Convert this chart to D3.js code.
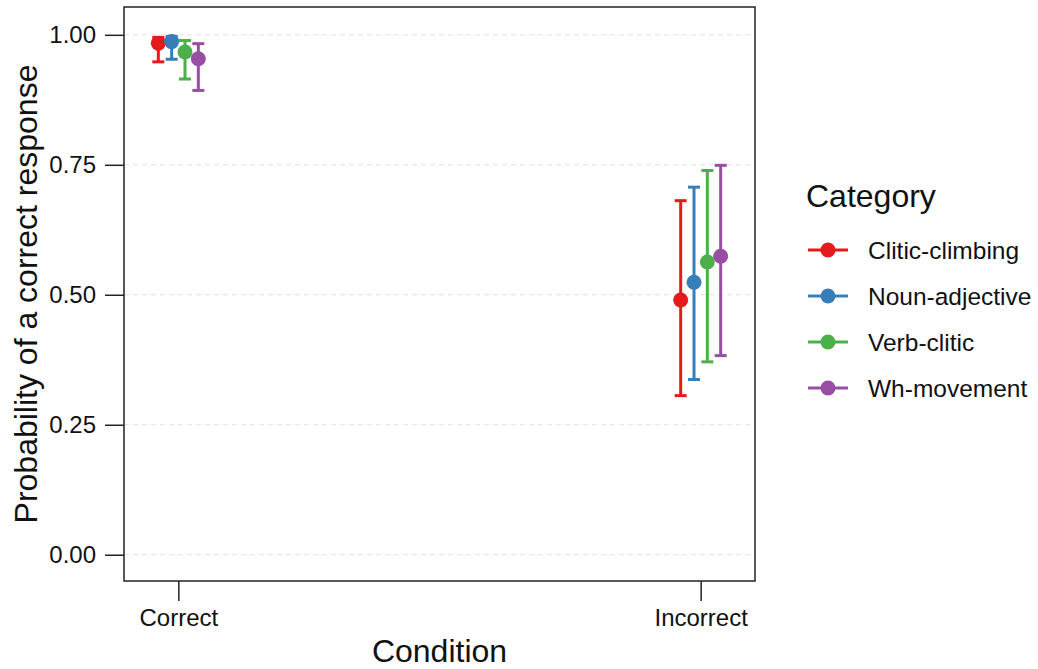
<!DOCTYPE html>
<html>
<head>
<meta charset="utf-8">
<script src="https://cdn.jsdelivr.net/npm/d3@7"></script>
<style>
  body { margin: 0; background: #fff; }
  svg { font-family: "Liberation Sans", Arial, sans-serif; }
</style>
</head>
<body>
<svg id="grafico" width="1038" height="669"></svg>
<script>
// datos
var condiciones = ["Correct", "Incorrect"];
var categorias = ["Clitic-climbing", "Noun-adjective", "Verb-clitic", "Wh-movement"];
var colores = ["#E41A1C", "#377EB8", "#4DAF4A", "#984EA3"];
// probabilidad estimada, por categoria: [Correct, Incorrect]
var media = [[0.984, 0.490], [0.987, 0.524], [0.967, 0.563], [0.954, 0.574]];
var inferior = [[0.948, 0.306], [0.953, 0.337], [0.915, 0.371], [0.893, 0.383]];
var superior = [[0.995, 0.681], [0.997, 0.707], [0.989, 0.739], [0.983, 0.749]];
var ticksY = [0, 0.25, 0.5, 0.75, 1];

var panel = { left: 124, right: 755, top: 7, bottom: 581 };
var svg = d3.select("#grafico");

var escalaY = d3.scaleLinear().domain([-0.0505, 1.0535]).range([panel.bottom, panel.top]);
var escalaX = d3.scalePoint().domain(condiciones).range([panel.left, panel.right]).padding(0.104);
var dodge = d3.scalePoint().domain(categorias).range([-20, 20]);

// lineas de grilla
svg.append("g").selectAll("line").data(ticksY).enter().append("line")
  .attr("x1", panel.left).attr("x2", panel.right)
  .attr("y1", function (d) { return escalaY(d); })
  .attr("y2", function (d) { return escalaY(d); })
  .attr("stroke", "#e2e2e2").attr("stroke-width", 1).attr("stroke-dasharray", "5,4");

// datos en filas
var filas = [];
categorias.forEach(function (c, i) {
  condiciones.forEach(function (k, j) {
    filas.push({ cat: c, cond: k, color: colores[i], m: media[i][j], lo: inferior[i][j], hi: superior[i][j] });
  });
});

var puntos = svg.append("g").selectAll("g").data(filas).enter().append("g")
  .attr("transform", function (d) { return "translate(" + (escalaX(d.cond) + dodge(d.cat)) + ",0)"; });

puntos.append("line")
  .attr("y1", function (d) { return escalaY(d.lo); })
  .attr("y2", function (d) { return escalaY(d.hi); })
  .attr("stroke", function (d) { return d.color; }).attr("stroke-width", 3);
puntos.append("line").attr("x1", -6).attr("x2", 6)
  .attr("y1", function (d) { return escalaY(d.lo); })
  .attr("y2", function (d) { return escalaY(d.lo); })
  .attr("stroke", function (d) { return d.color; }).attr("stroke-width", 3);
puntos.append("line").attr("x1", -6).attr("x2", 6)
  .attr("y1", function (d) { return escalaY(d.hi); })
  .attr("y2", function (d) { return escalaY(d.hi); })
  .attr("stroke", function (d) { return d.color; }).attr("stroke-width", 3);
puntos.append("circle").attr("r", 7.5)
  .attr("cy", function (d) { return escalaY(d.m); })
  .attr("fill", function (d) { return d.color; });

// borde del panel
svg.append("rect")
  .attr("x", panel.left).attr("y", panel.top)
  .attr("width", panel.right - panel.left).attr("height", panel.bottom - panel.top)
  .attr("fill", "none").attr("stroke", "#222").attr("stroke-width", 1.5);

// ejes
var ejeY = svg.append("g").attr("transform", "translate(" + panel.left + ",0)")
  .call(d3.axisLeft(escalaY).tickValues(ticksY).tickFormat(d3.format(".2f")).tickSize(19).tickPadding(9));
var ejeX = svg.append("g").attr("transform", "translate(0," + panel.bottom + ")")
  .call(d3.axisBottom(escalaX).tickSize(20).tickPadding(8));
[ejeY, ejeX].forEach(function (e) {
  e.select(".domain").remove();
  e.selectAll(".tick line").attr("stroke", "#222").attr("stroke-width", 1.5);
  e.selectAll(".tick text").attr("fill", "#111").style("font-size", "24px")
    .style("font-family", "'Liberation Sans', Arial, sans-serif");
});

// titulos de ejes
svg.append("text")
  .attr("transform", "translate(37," + ((panel.top + panel.bottom) / 2) + ") rotate(-90)")
  .style("text-anchor", "middle").style("font-size", "32px").attr("fill", "#111")
  .text("Probability of a correct response");
svg.append("text")
  .attr("x", (panel.left + panel.right) / 2).attr("y", 662)
  .style("text-anchor", "middle").style("font-size", "32px").attr("fill", "#111")
  .text("Condition");

// leyenda
var leyenda = svg.append("g").attr("transform", "translate(806,0)");
leyenda.append("text").attr("x", 0).attr("y", 207)
  .style("font-size", "32px").attr("fill", "#111").text("Category");
var items = leyenda.selectAll(".item").data(categorias).enter().append("g")
  .attr("transform", function (d, i) { return "translate(0," + (250 + i * 46) + ")"; });
items.append("line").attr("x1", 2).attr("x2", 42)
  .attr("stroke", function (d, i) { return colores[i]; }).attr("stroke-width", 3);
items.append("circle").attr("cx", 22).attr("r", 7.5)
  .attr("fill", function (d, i) { return colores[i]; });
items.append("text").attr("x", 62).attr("y", 8.5)
  .style("font-size", "24.5px").attr("fill", "#111").text(function (d) { return d; });
</script>
</body>
</html>
